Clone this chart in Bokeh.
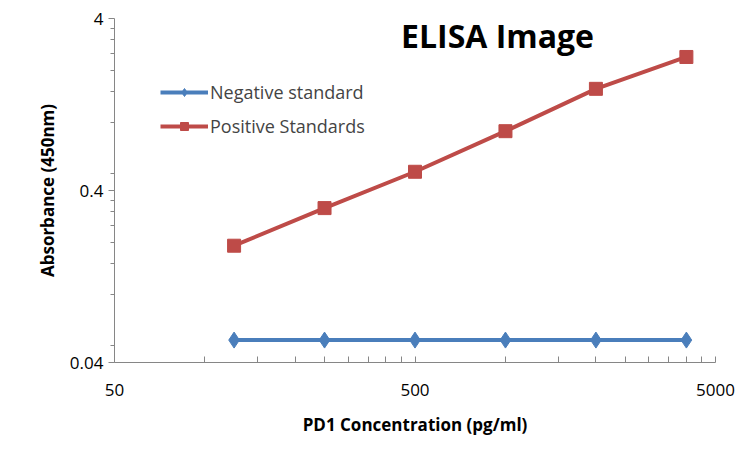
from bokeh.plotting import figure
from bokeh.models import FixedTicker, Legend, LegendItem, Label
from bokeh.embed import file_html
from bokeh.resources import INLINE

conc = [125, 250, 500, 1000, 2000, 4000]
negative = [0.054, 0.054, 0.054, 0.054, 0.054, 0.054]
positive = [0.191, 0.316, 0.514, 0.885, 1.56, 2.39]
x_ticks = [50, 500, 5000]
y_ticks = [0.04, 0.4, 4]

F = "Open Sans"
p = figure(width=736, height=438, x_axis_type="log", y_axis_type="log",
           x_range=(50, 5000), y_range=(0.04, 4), output_backend="svg",
           toolbar_location=None, min_border_left=114, min_border_right=21,
           min_border_top=18, min_border_bottom=73)
p.outline_line_color = None
p.xgrid.visible = False
p.ygrid.visible = False

xminor = [100, 150, 200, 250, 300, 350, 400, 450, 1000, 1500, 2000, 2500, 3000, 3500, 4000, 4500]
yminor = [0.05, 0.1, 0.15, 0.2, 0.25, 0.3, 0.35, 0.5, 1.0, 1.5, 2.0, 2.5, 3.0, 3.5]
p.xaxis.ticker = FixedTicker(ticks=x_ticks, minor_ticks=xminor)
p.yaxis.ticker = FixedTicker(ticks=y_ticks, minor_ticks=yminor)
p.xaxis.major_label_overrides = {50: "50", 500: "500", 5000: "5000"}
p.yaxis.major_label_overrides = {0.04: "0.04", 0.4: "0.4", 4: "4"}
for ax in (p.xaxis, p.yaxis):
    ax.axis_line_color = "#868686"
    ax.major_tick_line_color = "#868686"
    ax.minor_tick_line_color = "#868686"
    ax.major_label_text_font = F
    ax.major_label_text_font_size = "17px"
    ax.major_label_text_color = "#000000"
    ax.axis_label_text_font = F
    ax.axis_label_text_font_size = "17px"
    ax.axis_label_text_font_style = "bold"
    ax.axis_label_text_color = "#000000"
p.xaxis.major_tick_out = 0
p.xaxis.major_tick_in = 6
p.xaxis.minor_tick_out = 0
p.xaxis.minor_tick_in = 6
p.yaxis.major_tick_out = 6
p.yaxis.major_tick_in = 0
p.yaxis.minor_tick_out = 4
p.yaxis.minor_tick_in = 0
p.xaxis.major_label_standoff = 21
p.xaxis.axis_label_standoff = 14
p.yaxis.axis_label_standoff = 8
p.xaxis.axis_label = "PD1 Concentration (pg/ml)"
p.yaxis.axis_label = "Absorbance (450nm)"

l1 = p.line(conc, negative, line_color="#4a7ebb", line_width=4)
m1 = p.scatter(conc, negative, marker="diamond", size=16, color="#4a7ebb")
l2 = p.line(conc, positive, line_color="#be4b48", line_width=4)
m2 = p.scatter(conc, positive, marker="square", size=13, color="#be4b48")

leg = Legend(items=[LegendItem(label="Negative standard", renderers=[l1, m1]),
                    LegendItem(label="Positive Standards", renderers=[l2, m2])],
             location=(46, 224), border_line_color=None, background_fill_alpha=0,
             label_text_font=F, label_text_font_size="18px", glyph_width=48,
             spacing=10, label_standoff=2)
p.add_layout(leg, "center")

p.add_layout(Label(x=383, y=327, x_units="screen", y_units="screen", text="ELISA Image",
                   text_font=F, text_font_size="32px", text_font_style="bold",
                   text_color="#000000", text_align="center", text_baseline="middle"))
open("out.html", "w").write(file_html(p, INLINE))
